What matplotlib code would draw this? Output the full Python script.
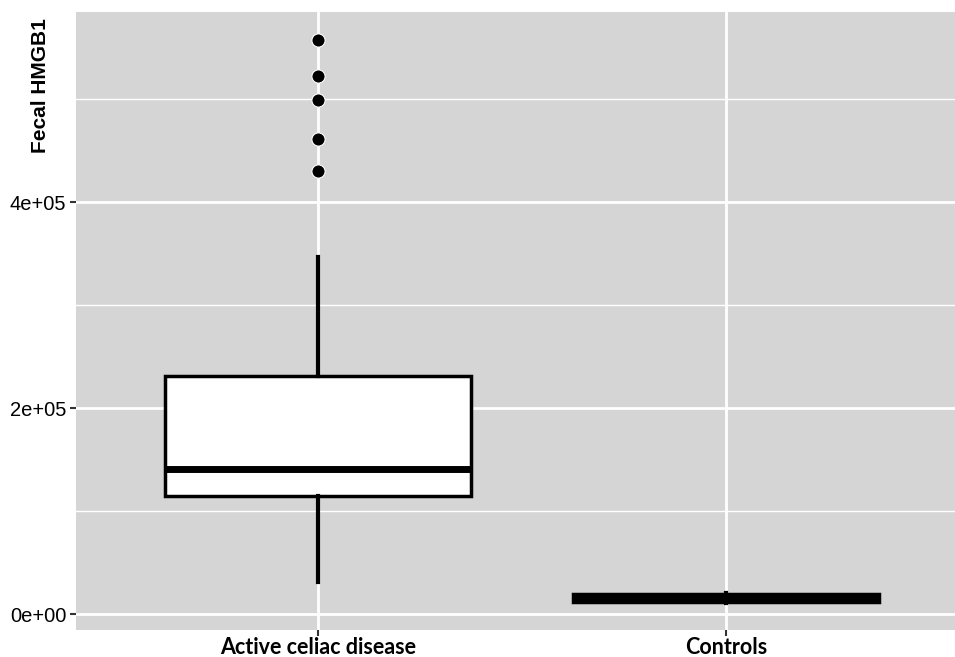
import matplotlib
matplotlib.use("Agg")
import matplotlib.pyplot as plt
import numpy as np

# Data
categories = ["Active celiac disease", "Controls"]
whisker_low = [31400, 11000]
q1 = [114900, 12000]
median = [140800, 15500]
q3 = [231400, 19500]
whisker_high = [346900, 20500]
outliers = [[557300, 522300, 498700, 460900, 430100], []]
y_ticks = [0, 200000, 400000]
y_tick_labels = ["0e+00", "2e+05", "4e+05"]
minor_ticks = [100000, 300000, 500000]

fig = plt.figure(figsize=(9.55, 6.57), dpi=100)
ax = fig.add_axes([76/955, 1-630/657, 1-76/955, (630-12)/657])
ax.set_facecolor("#d5d5d5")

stats = []
for i, c in enumerate(categories):
    stats.append(dict(label=c, whislo=whisker_low[i], q1=q1[i], med=median[i],
                      q3=q3[i], whishi=whisker_high[i], fliers=outliers[i]))

positions = np.arange(1, len(categories) + 1)
ax.bxp(stats, positions=positions, widths=0.75, patch_artist=True,
       showcaps=False,
       boxprops=dict(facecolor="white", edgecolor="black", linewidth=2.5),
       medianprops=dict(color="black", linewidth=5, solid_capstyle="butt"),
       whiskerprops=dict(color="black", linewidth=3),
       flierprops=dict(marker="o", markerfacecolor="black", markeredgecolor="white",
                       markeredgewidth=0.8, markersize=9.5, linestyle="none"),
       zorder=3)

ax.set_xlim(1 - 242/408, 2 + 229/408)
ax.set_ylim(-15500, 584500)
ax.set_yticks(y_ticks)
ax.set_yticklabels(y_tick_labels, family="Liberation Sans", fontsize=14.5, color="black")
ax.set_yticks(minor_ticks, minor=True)
ax.set_xticks(positions)
ax.set_xticklabels(categories, family="Lato", fontweight="bold", fontsize=15.5, color="black")

ax.grid(which="major", color="white", linewidth=2, zorder=0)
ax.grid(which="minor", axis="y", color="white", linewidth=1, zorder=0)
ax.set_axisbelow(True)
ax.tick_params(axis="both", which="major", length=4, width=1.5, color="#333333", pad=3)
ax.tick_params(axis="x", which="major", pad=1)
ax.tick_params(axis="y", which="minor", length=0)
for s in ax.spines.values():
    s.set_visible(False)

fig.text(40/955, 1 - 18/657, "Fecal HMGB1", rotation=90, ha="center", va="top",
         family="Liberation Sans", fontweight="bold", fontsize=15, color="black")

fig.savefig("out.png", dpi=100)
